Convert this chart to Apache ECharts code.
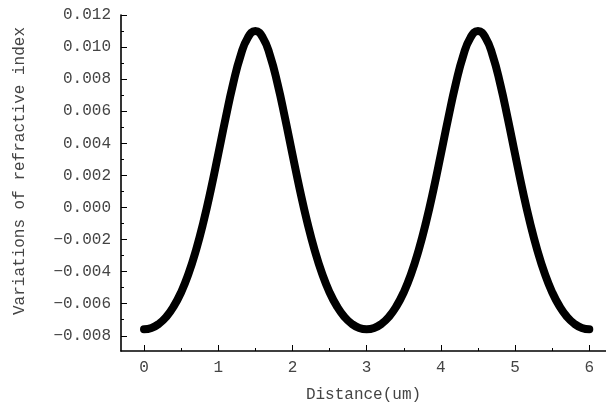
<!DOCTYPE html>
<html><head><meta charset="utf-8">
<script src="https://cdn.jsdelivr.net/npm/echarts@6/dist/echarts.min.js"></script>
<style>html,body{margin:0;padding:0;background:#fff}#c{width:606px;height:408px}</style>
</head><body><div id="c"></div>
<script>
const distance = [0.0,0.1,0.2,0.3,0.4,0.5,0.6,0.7,0.8,0.9,1.0,1.1,1.2,1.3,1.4,1.5,1.6,1.7,1.8,1.9,2.0,2.1,2.2,2.3,2.4,2.5,2.6,2.7,2.8,2.9,3.0,
  3.1,3.2,3.3,3.4,3.5,3.6,3.7,3.8,3.9,4.0,4.1,4.2,4.3,4.4,4.5,4.6,4.7,4.8,4.9,5.0,5.1,5.2,5.3,5.4,5.5,5.6,5.7,5.8,5.9,6.0];
const variation = [-0.00760,-0.00752,-0.00726,-0.00682,-0.00617,-0.00529,-0.00413,-0.00267,-0.00092,0.00110,0.00332,0.00558,0.00770,0.00944,0.01060,0.01100,
  0.01060,0.00944,0.00770,0.00558,0.00332,0.00110,-0.00092,-0.00267,-0.00413,-0.00529,-0.00617,-0.00682,-0.00726,-0.00752,-0.00760,
  -0.00752,-0.00726,-0.00682,-0.00617,-0.00529,-0.00413,-0.00267,-0.00092,0.00110,0.00332,0.00558,0.00770,0.00944,0.01060,0.01100,
  0.01060,0.00944,0.00770,0.00558,0.00332,0.00110,-0.00092,-0.00267,-0.00413,-0.00529,-0.00617,-0.00682,-0.00726,-0.00752,-0.00760];
const xTickLabels = [0,1,2,3,4,5,6];
const xMinorTicks = [0.5,1.5,2.5,3.5,4.5,5.5];
const yTickLabels = [-0.008,-0.006,-0.004,-0.002,0,0.002,0.004,0.006,0.008,0.010,0.012];
const yMinorTicks = [-0.007,-0.005,-0.003,-0.001,0.001,0.003,0.005,0.007,0.009,0.011];
const xTitle = 'Distance(um)';
const yTitle = 'Variations of refractive index';

const FONT = '"Liberation Mono", "DejaVu Sans Mono", monospace';
const TXT = '#444';
const X_MIN = -0.31, X_MAX = 6.225, Y_MIN = -0.00895, Y_MAX = 0.012;

const chart = echarts.init(document.getElementById('c'), null, {renderer: 'canvas'});
chart.setOption({
  animation: false,
  backgroundColor: '#fff',
  grid: {left: 121, right: 0, top: 15, bottom: 56, containLabel: false},
  xAxis: [{
    type: 'value', min: X_MIN, max: X_MAX, position: 'bottom',
    name: xTitle, nameLocation: 'middle', nameGap: 36,
    nameTextStyle: {fontFamily: FONT, fontSize: 16, color: TXT},
    axisLine: {show: true, onZero: false, lineStyle: {color: '#000', width: 1.6}},
    axisTick: {show: true, inside: true, length: 6, customValues: xTickLabels, lineStyle: {color: '#000', width: 1}},
    axisLabel: {show: true, customValues: xTickLabels, margin: 9, fontFamily: FONT, fontSize: 16, color: TXT, formatter: v => String(v)},
    splitLine: {show: false}
  }, {
    type: 'value', min: X_MIN, max: X_MAX, position: 'bottom',
    axisLine: {show: false, onZero: false},
    axisTick: {show: true, inside: true, length: 3, customValues: xMinorTicks, lineStyle: {color: '#000', width: 1}},
    axisLabel: {show: false},
    splitLine: {show: false}
  }],
  yAxis: [{
    type: 'value', min: Y_MIN, max: Y_MAX, position: 'left',
    name: yTitle, nameLocation: 'middle', nameGap: 93,
    nameTextStyle: {fontFamily: FONT, fontSize: 16, color: TXT, padding: [0, 0, 0, 24]},
    axisLine: {show: true, onZero: false, lineStyle: {color: '#000', width: 1.6}},
    axisTick: {show: true, inside: true, length: 6, customValues: yTickLabels, lineStyle: {color: '#000', width: 1}},
    axisLabel: {show: true, customValues: yTickLabels, margin: 10, fontFamily: FONT, fontSize: 16, color: TXT,
      formatter: v => (v < -1e-9 ? '\u2212' : '') + Math.abs(v).toFixed(3)},
    splitLine: {show: false}
  }, {
    type: 'value', min: Y_MIN, max: Y_MAX, position: 'left',
    axisLine: {show: false, onZero: false},
    axisTick: {show: true, inside: true, length: 3, customValues: yMinorTicks, lineStyle: {color: '#000', width: 1}},
    axisLabel: {show: false},
    splitLine: {show: false}
  }],
  series: [{
    type: 'line',
    xAxisIndex: 0, yAxisIndex: 0,
    data: distance.map((d, i) => [d, variation[i]]),
    smooth: true,
    symbol: 'none',
    lineStyle: {color: '#000', width: 8, cap: 'round', join: 'round'}
  }]
});
</script>
</body></html>
